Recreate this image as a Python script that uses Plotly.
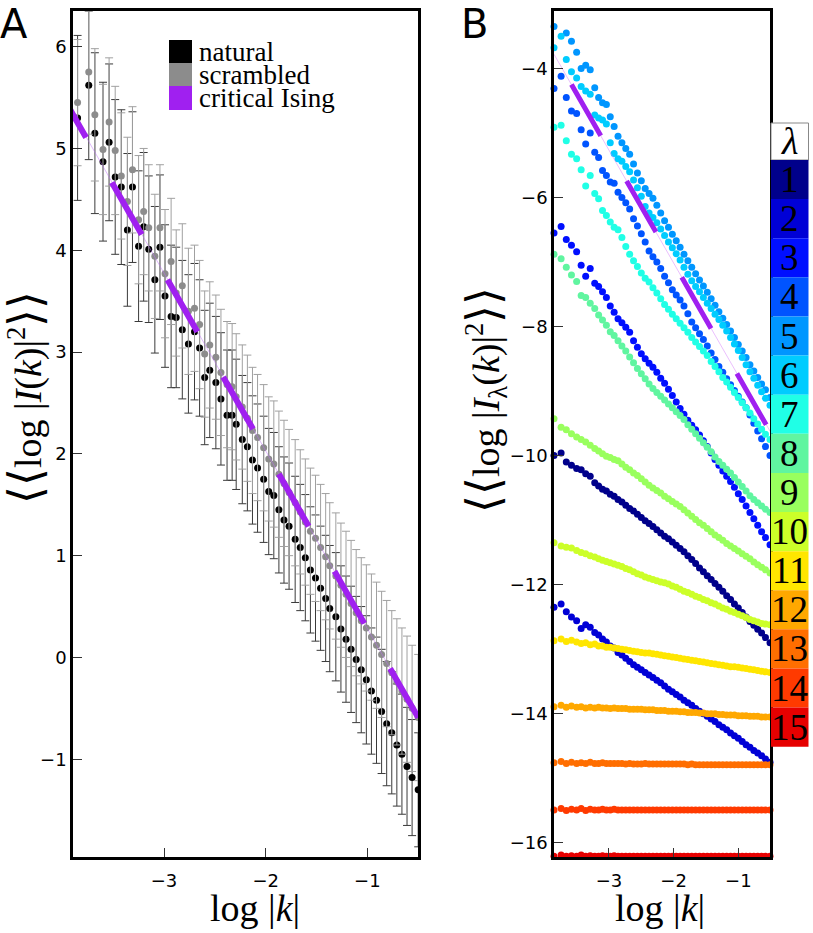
import plotly.graph_objects as go

W, H = 813, 933

# ---------------- Panel A data ----------------
log_k_a = [-3.85, -3.74, -3.68, -3.60, -3.54, -3.48, -3.42, -3.36, -3.31,
           -3.25, -3.20, -3.15, -3.09, -3.04, -2.99, -2.93, -2.88, -2.82,
           -2.76, -2.70, -2.65, -2.60, -2.55, -2.49, -2.44, -2.38, -2.33,
           -2.29, -2.23, -2.18, -2.13, -2.08, -2.02, -1.97, -1.92, -1.87,
           -1.82, -1.77, -1.71, -1.66, -1.61, -1.56, -1.51, -1.46, -1.41,
           -1.37, -1.31, -1.26, -1.21, -1.16, -1.11, -1.06, -1.01, -0.96,
           -0.91, -0.86, -0.81, -0.76, -0.71, -0.66, -0.61, -0.56, -0.50]

natural = [5.30, 5.62, 5.15, 4.87, 5.06, 4.72, 4.62, 4.20, 4.62,
           4.04, 4.23, 4.01, 3.71, 4.03, 3.55, 3.35, 3.34, 3.22,
           3.08, 3.20, 3.04, 2.75, 2.82, 2.70, 2.54, 2.38, 2.38,
           2.29, 2.14, 2.07, 1.94, 1.86, 1.75, 1.63, 1.59, 1.45,
           1.35, 1.29, 1.16, 1.08, 0.98, 0.86, 0.78, 0.68, 0.58,
           0.48, 0.40, 0.28, 0.18, 0.08, -0.02, -0.12, -0.22, -0.33,
           -0.42, -0.53, -0.65, -0.74, -0.86, -0.95, -1.07, -1.18, -1.30]

natural_err = [0.81, 0.73, 0.79, 0.78, 0.77, 0.76, 0.76, 0.75, 0.74,
               0.74, 0.73, 0.72, 0.72, 0.71, 0.70, 0.70, 0.69, 0.68,
               0.68, 0.67, 0.67, 0.66, 0.66, 0.65, 0.65, 0.64, 0.64,
               0.64, 0.63, 0.63, 0.63, 0.63, 0.62, 0.62, 0.62, 0.62,
               0.62, 0.62, 0.62, 0.62, 0.62, 0.62, 0.62, 0.61, 0.62,
               0.62, 0.63, 0.62, 0.62, 0.62, 0.62, 0.62, 0.63, 0.62,
               0.62, 0.61, 0.61, 0.60, 0.60, 0.59, 0.58, 0.57, 0.56]

scrambled = [5.45, 5.75, 5.33, 4.99, 5.26, 4.98, 4.73, 4.48, 4.79,
             4.30, 4.38, 4.22, 3.94, 4.22, 3.77, 3.89, 3.58, 3.65,
             3.40, 3.43, 3.27, 2.98, 3.07, 2.95, 2.80, 2.68, 2.66,
             2.56, 2.46, 2.35, 2.23, 2.16, 2.06, 1.95, 1.90, 1.80,
             1.71, 1.62, 1.52, 1.43, 1.33, 1.24, 1.17, 1.08, 0.99,
             0.90, 0.80, 0.71, 0.62, 0.53, 0.44, 0.36, 0.29, 0.20,
             0.12, 0.03, -0.06, -0.15, -0.24, -0.33, -0.41, -0.50, -0.59]

scrambled_err = [0.62, 0.61, 0.65, 0.64, 0.63, 0.63, 0.62, 0.63, 0.62,
                 0.63, 0.62, 0.62, 0.61, 0.62, 0.63, 0.62, 0.62, 0.61,
                 0.62, 0.62, 0.63, 0.62, 0.62, 0.61, 0.62, 0.62, 0.62,
                 0.62, 0.61, 0.62, 0.62, 0.62, 0.62, 0.61, 0.62, 0.62,
                 0.62, 0.62, 0.62, 0.61, 0.62, 0.62, 0.62, 0.62, 0.62,
                 0.62, 0.62, 0.61, 0.62, 0.62, 0.62, 0.62, 0.62, 0.62,
                 0.62, 0.62, 0.62, 0.61, 0.62, 0.62, 0.62, 0.62, 0.62]

# critical Ising power law (slope -7/4)
ising_a_x = [-4.06, -0.50]
ising_a_y = [5.62, -0.59]
ising_a_thin_x = [-3.89, -0.50]
ising_a_thin_y = [5.33, -0.59]

legend_labels = ["natural", "scrambled", "critical Ising"]

# ---------------- Panel B data ----------------
log_k_b = [-3.85, -3.74, -3.66, -3.58, -3.50, -3.43, -3.36, -3.29, -3.22,
           -3.16, -3.10, -3.04, -2.98, -2.92, -2.86, -2.80, -2.74, -2.68,
           -2.62, -2.56, -2.50, -2.44, -2.38, -2.32, -2.26, -2.20, -2.14,
           -2.08, -2.02, -1.96, -1.90, -1.84, -1.78, -1.72, -1.66, -1.60,
           -1.54, -1.48, -1.42, -1.36, -1.30, -1.24, -1.18, -1.12, -1.06,
           -1.00, -0.94, -0.88, -0.82, -0.76, -0.70, -0.64, -0.58, -0.51]

lam_1 = [-10.00, -9.96, -10.10, -10.15, -10.20, -10.22, -10.28, -10.32, -10.42,
         -10.47, -10.52, -10.55, -10.60, -10.63, -10.68, -10.72, -10.77, -10.82,
         -10.86, -10.91, -10.96, -11.01, -11.05, -11.10, -11.15, -11.20, -11.25,
         -11.29, -11.34, -11.39, -11.44, -11.49, -11.55, -11.61, -11.67, -11.74,
         -11.80, -11.86, -11.92, -11.98, -12.04, -12.10, -12.17, -12.23, -12.30,
         -12.36, -12.43, -12.50, -12.57, -12.63, -12.69, -12.75, -12.82, -12.90]
lam_2 = [-12.35, -12.30, -12.42, -12.50, -12.56, -12.68, -12.62, -12.66, -12.74,
         -12.78, -12.84, -12.89, -12.95, -12.98, -13.05, -13.09, -13.14, -13.19,
         -13.24, -13.28, -13.32, -13.36, -13.40, -13.44, -13.48, -13.52, -13.57,
         -13.62, -13.66, -13.70, -13.74, -13.79, -13.83, -13.87, -13.92, -13.96,
         -14.00, -14.04, -14.08, -14.12, -14.17, -14.21, -14.25, -14.30, -14.34,
         -14.38, -14.43, -14.48, -14.52, -14.57, -14.61, -14.65, -14.70, -14.75]
lam_3 = [-6.55, -6.45, -6.65, -6.74, -6.84, -7.05, -7.22, -7.10, -7.33,
         -7.38, -7.46, -7.55, -7.68, -7.78, -7.88, -7.94, -8.01, -8.09,
         -8.22, -8.32, -8.42, -8.50, -8.57, -8.63, -8.71, -8.80, -8.88,
         -8.97, -9.07, -9.17, -9.27, -9.36, -9.45, -9.53, -9.60, -9.68,
         -9.77, -9.86, -9.96, -10.06, -10.15, -10.24, -10.32, -10.40, -10.49,
         -10.59, -10.68, -10.78, -10.88, -10.98, -11.08, -11.18, -11.27, -11.38]
lam_4 = [-4.31, -4.12, -4.45, -4.66, -4.70, -4.95, -5.17, -5.00, -5.30,
         -5.38, -5.58, -5.66, -5.76, -5.78, -5.92, -6.00, -6.08, -6.18,
         -6.33, -6.44, -6.56, -6.69, -6.83, -6.92, -7.00, -7.10, -7.22,
         -7.32, -7.43, -7.51, -7.59, -7.68, -7.80, -7.93, -8.02, -8.11,
         -8.20, -8.30, -8.41, -8.51, -8.62, -8.71, -8.81, -8.90, -8.99,
         -9.08, -9.17, -9.26, -9.37, -9.50, -9.62, -9.74, -9.86, -10.00]
lam_5 = [-3.35, -3.10, -3.45, -3.58, -3.75, -4.00, -3.95, -4.02, -4.30,
         -4.45, -4.53, -4.56, -4.75, -4.90, -5.05, -5.15, -5.24, -5.33,
         -5.48, -5.62, -5.74, -5.86, -5.94, -6.01, -6.12, -6.24, -6.36,
         -6.46, -6.57, -6.67, -6.77, -6.88, -6.98, -7.08, -7.18, -7.28,
         -7.37, -7.47, -7.57, -7.67, -7.77, -7.87, -7.97, -8.07, -8.17,
         -8.28, -8.38, -8.48, -8.59, -8.69, -8.79, -8.89, -8.98, -9.10]
lam_6 = [-3.68, -3.50, -3.86, -4.05, -4.15, -4.28, -4.35, -4.40, -4.72,
         -4.77, -4.80, -4.86, -5.15, -5.32, -5.40, -5.44, -5.52, -5.60,
         -5.73, -5.85, -5.98, -6.14, -6.24, -6.31, -6.39, -6.49, -6.59,
         -6.69, -6.78, -6.87, -6.97, -7.08, -7.19, -7.29, -7.38, -7.46,
         -7.55, -7.64, -7.72, -7.81, -7.89, -7.98, -8.07, -8.17, -8.27,
         -8.37, -8.48, -8.59, -8.70, -8.80, -8.91, -9.01, -9.11, -9.22]
lam_7 = [-4.91, -4.88, -5.12, -5.33, -5.40, -5.57, -5.82, -5.66, -5.94,
         -6.02, -6.20, -6.28, -6.38, -6.46, -6.50, -6.62, -6.76, -6.88,
         -6.98, -7.07, -7.17, -7.25, -7.31, -7.40, -7.48, -7.57, -7.66,
         -7.73, -7.81, -7.88, -7.95, -8.02, -8.09, -8.17, -8.24, -8.31,
         -8.38, -8.45, -8.54, -8.62, -8.70, -8.79, -8.86, -8.94, -9.02,
         -9.10, -9.18, -9.26, -9.34, -9.43, -9.51, -9.59, -9.67, -9.75]
lam_8 = [-6.88, -6.95, -7.08, -7.20, -7.30, -7.52, -7.55, -7.64, -7.72,
         -7.82, -7.90, -7.98, -8.08, -8.14, -8.22, -8.30, -8.38, -8.47,
         -8.56, -8.65, -8.73, -8.81, -8.89, -8.96, -9.02, -9.08, -9.14,
         -9.20, -9.26, -9.32, -9.38, -9.44, -9.52, -9.59, -9.66, -9.73,
         -9.80, -9.87, -9.94, -10.02, -10.09, -10.15, -10.21, -10.27, -10.34,
         -10.41, -10.48, -10.55, -10.62, -10.68, -10.73, -10.78, -10.83, -10.88]
lam_9 = [-9.43, -9.56, -9.60, -9.66, -9.71, -9.75, -9.79, -9.84, -9.89,
         -9.93, -9.97, -10.01, -10.03, -10.06, -10.08, -10.13, -10.18, -10.22,
         -10.27, -10.31, -10.36, -10.41, -10.46, -10.50, -10.54, -10.58, -10.63,
         -10.67, -10.71, -10.75, -10.79, -10.84, -10.89, -10.94, -10.99, -11.04,
         -11.08, -11.13, -11.18, -11.23, -11.27, -11.31, -11.36, -11.40, -11.44,
         -11.48, -11.52, -11.56, -11.60, -11.65, -11.69, -11.73, -11.77, -11.82]
lam_10 = [-11.35, -11.40, -11.42, -11.43, -11.47, -11.50, -11.52, -11.55, -11.57,
          -11.60, -11.62, -11.64, -11.66, -11.68, -11.70, -11.72, -11.75, -11.77,
          -11.80, -11.83, -11.85, -11.88, -11.90, -11.92, -11.94, -11.96, -11.97,
          -11.99, -12.02, -12.04, -12.07, -12.10, -12.12, -12.15, -12.18, -12.20,
          -12.23, -12.25, -12.28, -12.30, -12.33, -12.36, -12.38, -12.41, -12.43,
          -12.46, -12.48, -12.51, -12.54, -12.56, -12.58, -12.60, -12.61, -12.62]
lam_11 = [-12.87, -12.84, -12.88, -12.86, -12.89, -12.91, -12.90, -12.93, -12.92,
          -12.95, -12.95, -12.97, -12.97, -12.98, -12.99, -13.00, -13.01, -13.02,
          -13.03, -13.04, -13.05, -13.06, -13.06, -13.07, -13.08, -13.09, -13.10,
          -13.11, -13.12, -13.13, -13.14, -13.15, -13.16, -13.17, -13.18, -13.19,
          -13.20, -13.21, -13.22, -13.23, -13.24, -13.25, -13.26, -13.27, -13.27,
          -13.28, -13.29, -13.30, -13.31, -13.32, -13.33, -13.34, -13.35, -13.36]
lam_12 = [-13.89, -13.87, -13.90, -13.88, -13.90, -13.89, -13.91, -13.90, -13.91,
          -13.90, -13.91, -13.91, -13.92, -13.91, -13.92, -13.92, -13.92, -13.93,
          -13.93, -13.93, -13.93, -13.94, -13.94, -13.94, -13.95, -13.95, -13.95,
          -13.96, -13.96, -13.96, -13.97, -13.97, -13.98, -13.98, -13.98, -13.99,
          -13.99, -14.00, -14.00, -14.00, -14.01, -14.01, -14.02, -14.02, -14.02,
          -14.03, -14.03, -14.03, -14.04, -14.04, -14.04, -14.05, -14.05, -14.05]
lam_13 = [-14.76, -14.74, -14.77, -14.75, -14.77, -14.76, -14.77, -14.75, -14.77,
          -14.77, -14.76, -14.77, -14.77, -14.77, -14.77, -14.77, -14.78, -14.77,
          -14.78, -14.78, -14.78, -14.77, -14.78, -14.78, -14.78, -14.78, -14.78,
          -14.78, -14.78, -14.78, -14.78, -14.78, -14.79, -14.78, -14.79, -14.79,
          -14.79, -14.79, -14.79, -14.79, -14.79, -14.79, -14.79, -14.79, -14.79,
          -14.79, -14.79, -14.79, -14.79, -14.79, -14.79, -14.79, -14.79, -14.79]
lam_14 = [-15.49, -15.47, -15.50, -15.48, -15.49, -15.47, -15.50, -15.48, -15.49,
          -15.49, -15.48, -15.49, -15.49, -15.48, -15.49, -15.49, -15.49, -15.49,
          -15.49, -15.49, -15.49, -15.49, -15.49, -15.49, -15.49, -15.49, -15.49,
          -15.49, -15.49, -15.49, -15.49, -15.49, -15.49, -15.49, -15.49, -15.49,
          -15.49, -15.49, -15.49, -15.49, -15.49, -15.49, -15.49, -15.49, -15.49,
          -15.49, -15.49, -15.49, -15.49, -15.49, -15.49, -15.49, -15.49, -15.49]
lam_15 = [-16.21, -16.19, -16.21, -16.20, -16.21, -16.19, -16.21, -16.20, -16.21,
          -16.21, -16.20, -16.21, -16.21, -16.20, -16.21, -16.21, -16.21, -16.21,
          -16.21, -16.21, -16.21, -16.21, -16.21, -16.21, -16.21, -16.21, -16.21,
          -16.21, -16.21, -16.21, -16.21, -16.21, -16.21, -16.21, -16.21, -16.21,
          -16.21, -16.21, -16.21, -16.21, -16.21, -16.21, -16.21, -16.21, -16.21,
          -16.21, -16.21, -16.21, -16.21, -16.21, -16.21, -16.21, -16.21, -16.21]

lambdas = [1, 2, 3, 4, 5, 6, 7, 8, 9, 10, 11, 12, 13, 14, 15]
lambda_series = [lam_1, lam_2, lam_3, lam_4, lam_5, lam_6, lam_7, lam_8,
                 lam_9, lam_10, lam_11, lam_12, lam_13, lam_14, lam_15]

ising_b_x = [-3.58, -0.53]
ising_b_y = [-4.25, -9.59]
ising_b_thin_x = [-3.85, -0.51]
ising_b_thin_y = [-3.78, -9.62]

# ---------------- styling ----------------
jet_colors = ["#00008B", "#0000D6", "#000FFF", "#0054FF", "#0096FF",
              "#00CCFF", "#20FFE6", "#60F5A0", "#99FF5E", "#CCFF29",
              "#FFE600", "#FFA800", "#FF6E00", "#FF3A00", "#E60000"]
PURPLE = "#A020F0"
SERIF = "Liberation Serif, Times New Roman, serif"
SANS = "DejaVu Sans, Liberation Sans, sans-serif"


def px(x):
    return x / W


def py(y):
    return 1 - y / H


fig = go.Figure()

# Panel A
fig.add_trace(go.Scatter(
    x=log_k_a, y=natural, mode="markers", name=legend_labels[0],
    marker=dict(color="black", size=7),
    error_y=dict(type="data", array=natural_err, color="#3a3a3a", thickness=1, width=4),
    xaxis="x", yaxis="y", showlegend=False))
fig.add_trace(go.Scatter(
    x=log_k_a, y=scrambled, mode="markers", name=legend_labels[1],
    marker=dict(color="#8c8c8c", size=7),
    error_y=dict(type="data", array=scrambled_err, color="#a0a0a0", thickness=1, width=4),
    xaxis="x", yaxis="y", showlegend=False))
fig.add_trace(go.Scatter(
    x=ising_a_thin_x, y=ising_a_thin_y, mode="lines",
    line=dict(color="rgba(190,110,250,0.6)", width=0.8),
    xaxis="x", yaxis="y", showlegend=False, hoverinfo="skip"))
fig.add_trace(go.Scatter(
    x=ising_a_x, y=ising_a_y, mode="lines", name=legend_labels[2],
    line=dict(color=PURPLE, width=6, dash="60px,52px"),
    xaxis="x", yaxis="y", showlegend=False))

# Panel B
for lam, ys, col in zip(lambdas, lambda_series, jet_colors):
    fig.add_trace(go.Scatter(
        x=log_k_b, y=ys, mode="markers", name="λ=%d" % lam,
        marker=dict(color=col, size=7, line=dict(width=0)),
        xaxis="x2", yaxis="y2", showlegend=False, cliponaxis=False))
fig.add_trace(go.Scatter(
    x=ising_b_thin_x, y=ising_b_thin_y, mode="lines",
    line=dict(color="rgba(210,120,250,0.6)", width=0.8),
    xaxis="x2", yaxis="y2", showlegend=False, hoverinfo="skip"))
fig.add_trace(go.Scatter(
    x=ising_b_x, y=ising_b_y, mode="lines",
    line=dict(color=PURPLE, width=5, dash="59px,52px"),
    xaxis="x2", yaxis="y2", showlegend=False))

axis_common = dict(showline=True, linecolor="black", linewidth=2.5, mirror=True,
                   ticks="inside", ticklen=9, tickwidth=1, tickcolor="#333",
                   showgrid=False, zeroline=False,
                   tickfont=dict(family=SANS, size=18, color="black"))

fig.update_layout(
    width=W, height=H,
    margin=dict(l=0, r=0, t=0, b=0),
    paper_bgcolor="white", plot_bgcolor="white",
    showlegend=False,
    xaxis=dict(domain=[px(73), px(418)], range=[-3.895, -0.502],
               tickvals=[-3, -2, -1], anchor="y", ticklabelstandoff=6, **axis_common),
    yaxis=dict(domain=[py(857), py(11)], range=[-1.96, 6.35],
               tickvals=[-1, 0, 1, 2, 3, 4, 5, 6], anchor="x", **axis_common),
    xaxis2=dict(domain=[px(554), px(770)], range=[-3.85, -0.51],
                tickvals=[-3, -2, -1], anchor="y2", ticklabelstandoff=6, **axis_common),
    yaxis2=dict(domain=[py(857), py(11)], range=[-16.22, -3.11],
                tickvals=[-16, -14, -12, -10, -8, -6, -4], anchor="x2", **axis_common),
)

shapes = []
annotations = []

# legend of panel A
legend_cols = ["black", "#8c8c8c", PURPLE]
leg_top = [40, 63, 86]
leg_bot = [63, 86, 110]
for lab, col, t, b in zip(legend_labels, legend_cols, leg_top, leg_bot):
    shapes.append(dict(type="rect", xref="paper", yref="paper",
                       x0=px(169), x1=px(192), y0=py(b), y1=py(t),
                       fillcolor=col, line=dict(width=0)))
    annotations.append(dict(text=lab, xref="paper", yref="paper",
                            x=px(197), y=py((t + b) / 2), xanchor="left", yanchor="middle",
                            showarrow=False, font=dict(family=SERIF, size=27, color="black")))

# λ colour key of panel B
cell_h = (746.7 - 160) / 15
shapes.append(dict(type="rect", xref="paper", yref="paper",
                   x0=px(771), x1=px(808.5), y0=py(160), y1=py(123),
                   fillcolor="white", line=dict(color="#888", width=1)))
annotations.append(dict(text="<i>λ</i>", xref="paper", yref="paper",
                        x=px(789.5), y=py(141.5), xanchor="center", yanchor="middle",
                        showarrow=False, font=dict(family=SERIF, size=38, color="black")))
for i, (lam, col) in enumerate(zip(lambdas, jet_colors)):
    t = 160 + i * cell_h
    shapes.append(dict(type="rect", xref="paper", yref="paper",
                       x0=px(771), x1=px(808.5), y0=py(t + cell_h), y1=py(t),
                       fillcolor=col, line=dict(width=0)))
    annotations.append(dict(text=str(lam), xref="paper", yref="paper",
                            x=px(789.5), y=py(t + cell_h / 2), xanchor="center", yanchor="middle",
                            showarrow=False, font=dict(family=SERIF, size=37, color="black")))

# panel letters
annotations.append(dict(text="A", xref="paper", yref="paper", x=px(14), y=py(24),
                        xanchor="center", yanchor="middle", showarrow=False,
                        font=dict(family=SANS, size=40, color="black")))
annotations.append(dict(text="B", xref="paper", yref="paper", x=px(474), y=py(24),
                        xanchor="center", yanchor="middle", showarrow=False,
                        font=dict(family=SANS, size=40, color="black")))

# axis titles
annotations.append(dict(text="log |<i>k</i>|", xref="paper", yref="paper", x=px(255), y=py(908),
                        xanchor="center", yanchor="middle", showarrow=False,
                        font=dict(family=SERIF, size=38, color="black")))
annotations.append(dict(text="log |<i>k</i>|", xref="paper", yref="paper", x=px(660), y=py(908),
                        xanchor="center", yanchor="middle", showarrow=False,
                        font=dict(family=SERIF, size=38, color="black")))
BR_L = '<span style="font-size:46px">⟨⟨</span>'
BR_R = '<span style="font-size:46px">⟩⟩</span>'
annotations.append(dict(text=BR_L + "log |<i>I</i>(<i>k</i>)|<sup>2</sup>" + BR_R,
                        xref="paper", yref="paper",
                        x=px(25), y=py(398), xanchor="center", yanchor="middle", textangle=-90,
                        showarrow=False, font=dict(family=SERIF, size=38, color="black")))
annotations.append(dict(text=BR_L + "log |<i>I</i><sub>λ</sub>(<i>k</i>)|<sup>2</sup>" + BR_R,
                        xref="paper", yref="paper",
                        x=px(485), y=py(400), xanchor="center", yanchor="middle", textangle=-90,
                        showarrow=False, font=dict(family=SERIF, size=38, color="black")))

fig.update_layout(shapes=shapes, annotations=annotations)

fig.write_html("out.html", config={"displayModeBar": False},
               post_script="document.body.style.margin='0px';")
